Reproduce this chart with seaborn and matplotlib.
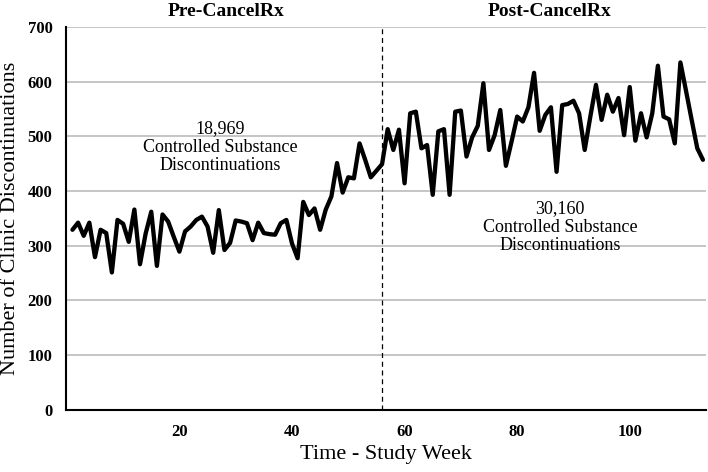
import numpy as np
import pandas as pd
import matplotlib.pyplot as plt
import seaborn as sns

# weekly clinic discontinuations, weeks 1-113
weeks = list(range(1, 114))
discontinuations = [
    329, 342, 318, 342, 279, 329, 323, 251, 347, 340,
    307, 366, 266, 322, 362, 263, 357, 344, 316, 289,
    326, 335, 347, 353, 335, 287, 365, 292, 305, 346,
    344, 341, 310, 342, 323, 321, 320, 341, 347, 304,
    277, 380, 356, 368, 329, 366, 390, 451, 397, 425,
    423, 487, 457, 425, 437, 449, 513, 475, 512, 414,
    542, 545, 478, 484, 393, 509, 513, 393, 545, 547,
    463, 498, 519, 597, 475, 502, 548, 446, 490, 536,
    527, 553, 616, 510, 539, 553, 435, 557, 559, 565,
    542, 475, 536, 594, 530, 576, 545, 570, 502, 590,
    492, 542, 498, 542, 629, 536, 531, 487, 635, 583,
    530, 478, 457,
]
cancelrx_week = 56
period_titles = ["Pre-CancelRx", "Post-CancelRx"]
period_notes = ["18,969\nControlled Substance\nDiscontinuations",
                "30,160\nControlled Substance\nDiscontinuations"]

df = pd.DataFrame({"week": weeks, "count": discontinuations})

sns.set_theme(style="whitegrid")
plt.rcParams["font.family"] = ["Liberation Serif", "DejaVu Serif"]
plt.rcParams["text.color"] = "black"
plt.rcParams["axes.labelcolor"] = "black"
plt.rcParams["xtick.color"] = "black"
plt.rcParams["ytick.color"] = "black"

fig = plt.figure(figsize=(7.08, 4.72), dpi=100)
ax = fig.add_axes([0.0928, 0.132, 0.904, 0.811])

sns.lineplot(data=df, x="week", y="count", color="black", linewidth=3.1, ax=ax)

# intervention marker
ax.axvline(cancelrx_week, color="black", linewidth=0.9, linestyle=(0, (4, 3)))

ax.set_xlim(-0.2, 113.5)
ax.set_ylim(0, 700)
ax.set_yticks(range(0, 701, 100))
ax.set_xticks([20, 40, 60, 80, 100])

ax.yaxis.grid(True, color="#c0c0c0", linewidth=1.3)
ax.xaxis.grid(False)
for side in ["top", "right"]:
    ax.spines[side].set_visible(False)
for side in ["left", "bottom"]:
    ax.spines[side].set_color("black")
    ax.spines[side].set_linewidth(1.5)

ax.tick_params(axis="y", direction="inout", length=9, width=1.5, color="black",
               labelsize=12, pad=5)
ax.tick_params(axis="x", length=0, labelsize=12, pad=10)
for lab in ax.get_xticklabels() + ax.get_yticklabels():
    lab.set_fontweight("bold")

ax.set_xlabel("Time - Study Week", fontsize=16)
ax.set_ylabel("Number of Clinic Discontinuations", fontsize=16)
ax.xaxis.set_label_coords(0.5, -0.092)
ax.yaxis.set_label_coords(-0.072, 0.5)

# period headers
fig.text(226 / 708, 1 - 12 / 472, period_titles[0], ha="center", va="center",
         fontsize=14, fontweight="bold")
fig.text(550 / 708, 1 - 12 / 472, period_titles[1], ha="center", va="center",
         fontsize=14, fontweight="bold")

# totals per period
ax.text(27.2, 480, period_notes[0], ha="center", va="center", fontsize=13,
        linespacing=1.12)
ax.text(87.6, 334, period_notes[1], ha="center", va="center", fontsize=13,
        linespacing=1.12)

fig.savefig("out.png", dpi=100)
